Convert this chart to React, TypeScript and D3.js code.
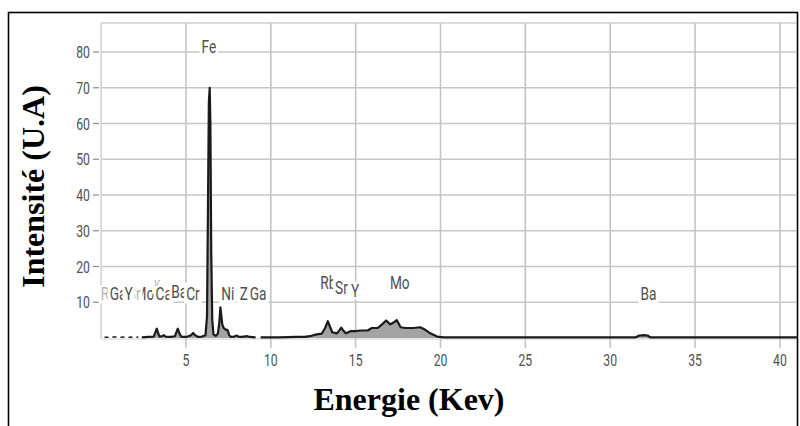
import React from "react";
import * as d3 from "d3";

// ---- spectrum data (energy in keV, intensity in arbitrary units) ----
// low-energy region, drawn dotted
const lowEnergy = [0.2, 0.5, 0.8, 1.1, 1.4, 1.7, 2.0, 2.2];
const lowCounts = [0.2, 0.2, 0.3, 0.2, 0.3, 0.2, 0.3, 0.2];

// K, Ca, Ba-L, Cr, Fe, Ni, Cu, Zn region
const midEnergy = [
  2.4, 2.8, 3.1, 3.2, 3.28, 3.36, 3.45, 3.6, 3.69, 3.8, 4.1, 4.35, 4.45, 4.52, 4.6,
  4.72, 4.9, 5.1, 5.3, 5.42, 5.52, 5.7, 5.95, 6.15, 6.24, 6.3, 6.35, 6.4, 6.44,
  6.49, 6.55, 6.62, 6.75, 6.88, 6.96, 7.03, 7.08, 7.14, 7.22, 7.32, 7.45, 7.55, 7.65,
  7.85, 8.0, 8.08, 8.3, 8.62, 8.75, 9.1,
];
const midCounts = [
  0.2, 0.3, 0.4, 1.6, 2.6, 1.4, 0.4, 0.5, 0.8, 0.4, 0.3, 0.5, 1.8, 2.6, 1.5,
  0.4, 0.3, 0.4, 0.8, 1.4, 0.9, 0.3, 0.4, 0.8, 6, 38, 66, 70, 60,
  24, 5, 1.0, 0.6, 1.2, 4, 8.6, 6.5, 3.8, 2.8, 2.4, 2.2, 0.8, 0.3,
  0.4, 0.7, 0.4, 0.3, 0.5, 0.3, 0.2,
];

// Rb, Sr, Y, Mo and Ba-K region
const highEnergy = [
  9.4, 10.5, 11.5, 12.0, 12.3, 12.7, 13.0, 13.2, 13.36, 13.5, 13.62, 13.9, 14.05,
  14.15, 14.28, 14.42, 14.7, 14.97, 15.3, 15.7, 15.96, 16.3, 16.55, 16.8, 17.04,
  17.25, 17.42, 17.65, 17.93, 18.4, 18.8, 19.1, 19.4, 19.8, 20.2, 25, 31.5, 31.7,
  32.0, 32.2, 32.35, 36, 41,
];
const highCounts = [
  0.2, 0.2, 0.3, 0.3, 0.5, 1.0, 1.2, 2.8, 4.7, 3.0, 1.6, 1.3, 2.2,
  2.9, 2.0, 1.3, 1.9, 1.9, 2.1, 2.1, 2.8, 2.8, 3.8, 4.9, 3.8,
  4.4, 5.0, 3.0, 2.8, 2.8, 3.0, 2.3, 1.3, 0.4, 0.15, 0.15, 0.15, 0.7,
  0.8, 0.7, 0.2, 0.15, 0.15,
];

// ---- element annotations (drawn in this order, later boxes cover earlier) ----
const elementNames = [
  "Rb", "Ga", "Mo", "Sr", "Y", "K", "Ca", "Ba", "Cr", "Fe", "Ni", "Zn", "Ga",
  "Rb", "Sr", "Y", "Mo", "Ba",
];
const elementEnergy = [
  0.45, 1.0, 2.55, 1.95, 1.62, 3.31, 3.69, 4.6, 5.41, 6.35, 7.47, 8.63, 9.25,
  13.39, 14.16, 14.96, 17.6, 32.25,
];
const elementLevel = [
  10.5, 10.5, 10.5, 10.5, 10.5, 13.2, 10.5, 11.3, 10.5, 79.7, 10.5, 10.5, 10.5,
  13.8, 12.4, 11.6, 13.8, 10.5,
];
const elementFaint = [
  true, false, false, true, false, true, false, false, false, false, false, false,
  false, false, false, false, false, false,
];

const xTicks = [5, 10, 15, 20, 25, 30, 35, 40];
const yTicks = [10, 20, 30, 40, 50, 60, 70, 80];

const W = 800;
const H = 426;
const plotLeft = 101.1;
const plotRight = 796;
const plotTop = 23;
const plotBottom = 339;

const SANS = "Roboto, 'Open Sans', sans-serif";
const SQUEEZE = 0.72;

let measureCtx: CanvasRenderingContext2D | null = null;
function textWidth(s: string, size: number): number {
  if (!measureCtx) {
    const c = document.createElement("canvas");
    measureCtx = c.getContext("2d");
  }
  if (!measureCtx) return s.length * size * 0.55;
  measureCtx.font = `${size}px Roboto`;
  return measureCtx.measureText(s).width;
}

export default function App() {
  const x = d3.scaleLinear().domain([0, 41]).range([plotLeft, 796.9]);
  const y = d3.scaleLinear().domain([0, 80]).range([338, 52]);

  const toPts = (es: number[], cs: number[]) => es.map((e, i) => [e, cs[i]] as [number, number]);
  const line = d3
    .line<[number, number]>()
    .x((d) => x(d[0]))
    .y((d) => y(d[1]));
  const area = d3
    .area<[number, number]>()
    .x((d) => x(d[0]))
    .y0(y(0))
    .y1((d) => y(d[1]));

  const low = toPts(lowEnergy, lowCounts);
  const mid = toPts(midEnergy, midCounts);
  const high = toPts(highEnergy, highCounts);

  const labelSize = 19;
  const tickSize = 17;

  return (
    <svg width={W} height={H} style={{ display: "block", position: "absolute", left: 0, top: 0 }}>
      <rect x={0} y={0} width={W} height={H} fill="#fff" />

      {/* plot frame */}
      <rect
        x={plotLeft}
        y={plotTop}
        width={plotRight - plotLeft}
        height={plotBottom - plotTop}
        fill="#fff"
      />
      <line x1={plotLeft} x2={plotRight} y1={plotTop} y2={plotTop} stroke="#cfcfcf" strokeWidth={1.5} />
      <line x1={plotLeft} x2={plotLeft} y1={plotTop} y2={plotBottom} stroke="#cfcfcf" strokeWidth={1.5} />
      <line x1={plotLeft} x2={plotRight} y1={plotBottom} y2={plotBottom} stroke="#dedede" strokeWidth={1.5} />

      {/* horizontal grid + y ticks */}
      {yTicks.map((t) => (
        <g key={"y" + t}>
          <line x1={plotLeft} x2={plotRight} y1={y(t)} y2={y(t)} stroke="#c8c8c8" strokeWidth={1.6} />
          <line x1={93} x2={99} y1={y(t)} y2={y(t)} stroke="#8a8a8a" strokeWidth={1.2} />
          <text
            transform={`translate(90,${y(t) + 6}) scale(${SQUEEZE},1)`}
            textAnchor="end"
            fontFamily={SANS}
            fontSize={tickSize}
            fill="#505050"
          >
            {t}
          </text>
        </g>
      ))}

      {/* vertical grid + x ticks */}
      {xTicks.map((t) => (
        <g key={"x" + t}>
          <line x1={x(t)} x2={x(t)} y1={plotTop} y2={348} stroke="#c4c4c4" strokeWidth={1.6} />
          <text
            transform={`translate(${x(t)},${366}) scale(${SQUEEZE},1)`}
            textAnchor="middle"
            fontFamily={SANS}
            fontSize={tickSize}
            fill="#505050"
          >
            {t}
          </text>
        </g>
      ))}

      {/* spectrum */}
      <path d={area(mid) || ""} fill="#a3a3a3" />
      <path d={area(high) || ""} fill="#a3a3a3" />
      <path
        d={line(low) || ""}
        fill="none"
        stroke="#222"
        strokeWidth={1.6}
        strokeDasharray="4 4"
      />
      <path d={line(mid) || ""} fill="none" stroke="#1a1a1a" strokeWidth={2.2} strokeLinejoin="round" />
      <path d={line(high) || ""} fill="none" stroke="#1a1a1a" strokeWidth={2.2} strokeLinejoin="round" />

      {/* element labels */}
      {elementNames.map((name, i) => {
        const cx = x(elementEnergy[i]);
        const by = y(elementLevel[i]);
        const size = name === "K" ? 14 : labelSize;
        const w = textWidth(name, size) * SQUEEZE;
        return (
          <g key={"el" + i}>
            <rect x={cx - w / 2 - 2} y={by - size * 0.78} width={w + 4} height={size * 0.78 + 3} fill="#fff" />
            <text
              transform={`translate(${cx},${by}) scale(${SQUEEZE},1)`}
              textAnchor="middle"
              fontFamily={SANS}
              fontSize={size}
              fill={elementFaint[i] ? "#b4b4b4" : "#4f4f4f"}
            >
              {name}
            </text>
          </g>
        );
      })}

      {/* axis titles */}
      <text
        transform="translate(44,186.5) rotate(-90)"
        textAnchor="middle"
        fontFamily="'Liberation Serif', 'Times New Roman', serif"
        fontWeight="bold"
        fontSize={32}
        fill="#000"
      >
        Intensité (U.A)
      </text>
      <text
        x={409}
        y={410}
        textAnchor="middle"
        fontFamily="'Liberation Serif', 'Times New Roman', serif"
        fontWeight="bold"
        fontSize={32}
        fill="#000"
      >
        Energie (Kev)
      </text>

      {/* outer border */}
      <rect x={8.5} y={12.5} width={789} height={430} fill="none" stroke="#000" strokeWidth={1.6} />
    </svg>
  );
}
